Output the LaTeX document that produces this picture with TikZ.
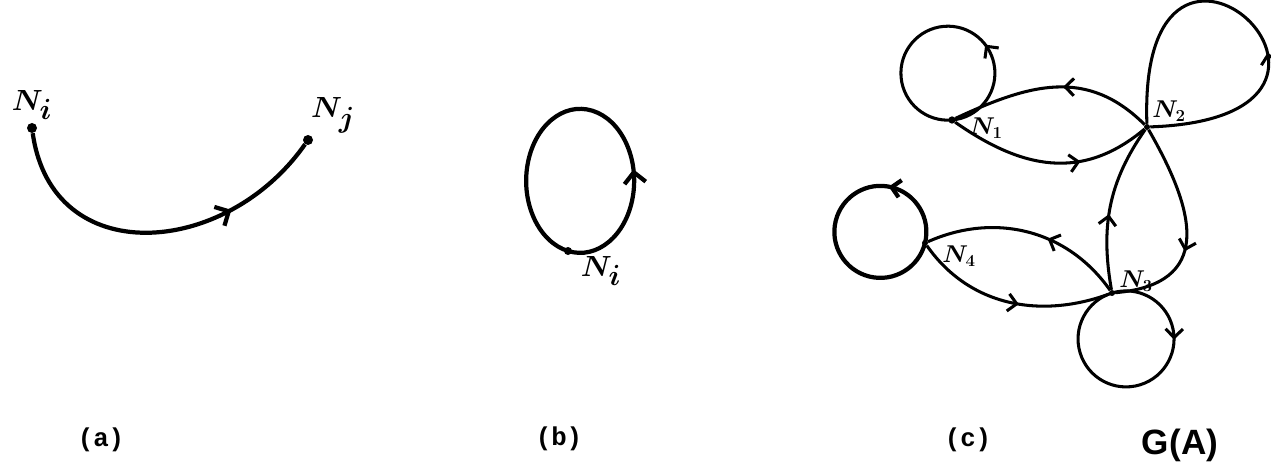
\documentclass[tikz,border=0pt]{standalone}
\usepackage{fontspec}
\newfontfamily\capfont{Liberation Mono}
\newfontfamily\handfont{Liberation Sans}
\usetikzlibrary{arrows.meta, decorations.markings}

\begin{document}
\begin{tikzpicture}[
  x=0.03cm, y=0.03cm,
  dot/.style={circle, fill, inner sep=0pt, minimum size=#1},
  dot/.default=1.8mm,
  edge/.style={line width=2.6pt},
  heavy/.style={line width=3.6pt},
  flow/.style={postaction={decorate, decoration={markings,
      mark=at position #1 with {\arrow{Straight Barb[length=2.6mm, width=5.2mm]}}}}},
  bigflow/.style={postaction={decorate, decoration={markings,
      mark=at position #1 with {\arrow{Straight Barb[length=3.2mm, width=6.4mm]}}}}},
  biglbl/.style={font=\fontsize{34}{36}\selectfont\boldmath},
  lbl/.style={font=\fontsize{21}{23}\selectfont\boldmath},
  sublbl/.style={font=\capfont\bfseries\fontsize{22}{24}\selectfont}
]
\useasboundingbox (0,0) rectangle (1271,467);

% (a) one edge
\node[dot=3mm] (ai) at (32,339) {};
\node[dot=3mm] (aj) at (308,327) {};
\node[biglbl] (ailbl) at (32,362) {$N_i$};
\node[biglbl] (ajlbl) at (333,352) {$N_j$};
\draw[heavy, bigflow=0.72] (ai) to[out=-82, in=-125, looseness=1.3] (aj);

% (b) a loop
\node[dot=2.4mm] (bi) at (568,216) {};
\node[biglbl] (bilbl) at (601,196) {$N_i$};
\draw[heavy, bigflow=0.31] (bi.center) arc[start angle=-103, delta angle=360, x radius=54, y radius=72];

% (c) the graph G(A)
\node[dot=2.2mm] (n1) at (952,347) {};
\node[dot] (n2) at (1147,340) {};
\node[dot] (n3) at (1112,174) {};
\node[dot] (n4) at (925,224) {};
\node[lbl] (n1lbl) at (986,339) {$N_1$};
\node[lbl] (n2lbl) at (1169,356) {$N_2$};
\node[lbl] (n3lbl) at (1136,186) {$N_3$};
\node[lbl] (n4lbl) at (959,211) {$N_4$};

% self loops
\draw[edge, flow=0.34] (n1.center) arc[start angle=-85, delta angle=360, radius=47];
\draw[edge, flow=0.4] (n2) to[out=2, in=92, min distance=8.2cm] (n2);
\draw[edge, flow=0.3] (n3.center) arc[start angle=107, delta angle=-360, radius=48];
\draw[heavy, flow=0.26] (n4.center) arc[start angle=-14, delta angle=360, radius=46];

% edges between nodes
\draw[edge, flow=0.65] (n1) to[out=-35, in=-140, looseness=1.1] (n2);
\draw[edge, flow=0.45] (n2) to[out=135, in=25, looseness=1.1] (n1);
\draw[edge, flow=0.45] (n3) to[out=100, in=-125] (n2);
\draw[edge, flow=0.6] (n2) to[out=-60, in=5, looseness=1.5] (n3);
\draw[edge, flow=0.4] (n3) to[out=125, in=24] (n4);
\draw[edge, flow=0.55] (n4) to[out=-55, in=-160] (n3);

% captions
\node[sublbl] (capa) at (101,27) {(a)};
\node[sublbl] (capb) at (559,28) {(b)};
\node[sublbl] (capc) at (968,27) {(c)};
\node[font=\handfont\bfseries\fontsize{30}{32}\selectfont] (capg) at (1180,22) {G(A)};
\end{tikzpicture}
\end{document}
